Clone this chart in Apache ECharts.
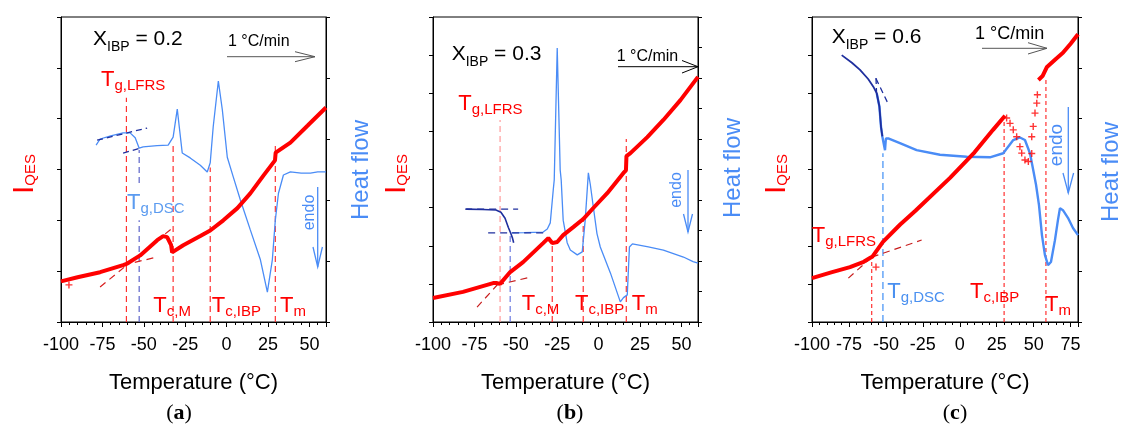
<!DOCTYPE html>
<html><head><meta charset="utf-8">
<script src="https://cdn.jsdelivr.net/npm/echarts/dist/echarts.min.js"></script>
<style>html,body{margin:0;padding:0;background:#fff}#c{width:1121px;height:430px}</style>
</head><body><div id="c"></div>
<script>
// ---------- DATA (temperature °C, signal in axis units) ----------
// Panel (a) X_IBP = 0.2
const aRed = [[-100,0.80],[-90,0.88],[-76.4,0.98],[-62.5,1.12],[-60,1.15],[-52.2,1.31],[-41.9,1.61],[-38.3,1.69],[-35.9,1.67],[-33.5,1.51],[-32.9,1.37],[-26.2,1.51],[-15.9,1.69],[-9.9,1.80],[-2,2.00],[6.5,2.24],[14.3,2.53],[22.2,2.88],[29.2,3.18],[29.6,3.33],[38.5,3.53],[48.8,3.86],[60,4.22]];
const aRedOut = [[-95.2,0.73]];
const aBlue = [[-78.8,2.90],[-76.4,3.00],[-70,3.05],[-62.5,3.10],[-58.3,3.10],[-55.2,3.02],[-52.8,2.85],[-50.4,2.87],[-42,2.89],[-35.3,2.90],[-32.3,3.03],[-29.8,3.49],[-28.6,3.20],[-26.8,2.77],[-22,2.69],[-15.9,2.57],[-11.7,2.46],[-9.9,2.61],[-8.1,3.20],[-5,3.95],[-2.6,3.48],[0.4,2.70],[4,2.38],[8.3,2.00],[14.3,1.51],[20.4,1.02],[24.6,0.49],[27.6,1.02],[29.4,1.67],[31.3,2.11],[34.3,2.41],[38.5,2.46],[45,2.44],[50.6,2.44],[55,2.46],[60,2.46]];
const aTanRed = [[[-76.4,0.69],[-32.3,1.86]],[[-62.5,1.12],[-43,1.27]]];
const aTanBlue = [[[-78.2,2.98],[-48,3.18]],[[-62.5,2.77],[-52.2,2.85]]];
const aMarkRed = [[-60.5,4.41],[-32.3,3.51],[-9.9,3.04],[29.4,3.53]];   // [T, top]
const aMarkDSC = [[-52.8,0,1.67],[-52.8,2.28,2.82]];                    // [T, from, to]

// Panel (b) X_IBP = 0.3
const bRed = [[-100,0.63],[-81.9,0.79],[-63.7,1.02],[-61.3,1.02],[-59.5,1.00],[-53.4,1.31],[-45.6,1.57],[-33.5,2.07],[-30.4,2.20],[-28.0,2.07],[-25.0,2.10],[-21.4,2.28],[-15.3,2.49],[-9.3,2.70],[-3.2,2.99],[5.2,3.38],[15.0,3.91],[16.5,3.98],[16.8,4.35],[19.2,4.43],[29.4,4.85],[39.1,5.30],[49.4,5.82],[60,6.43]];
const bNavy = [[-80,3.70],[-70,3.69],[-62,3.67],[-59,3.60],[-56.5,3.40],[-54.5,3.10],[-53,2.90],[-52,2.75],[-51.3,2.60]];
const bBlue = [[-52.5,2.92],[-45,2.93],[-33.5,2.95],[-31,3.05],[-29.2,3.25],[-27.4,4.33],[-26.8,4.66],[-25,8.98],[-23.2,4.98],[-22.6,4.66],[-21.4,3.34],[-19,2.60],[-17.1,2.36],[-12.9,2.20],[-9.9,2.30],[-8.1,3.34],[-6.2,4.89],[-5,4.50],[-3.2,3.77],[-1,2.90],[1,2.46],[7.1,1.61],[13.1,0.66],[15,0.80],[17.3,0.89],[18.6,2.46],[20.4,2.56],[30,2.46],[39.1,2.36],[51.2,2.13],[57,1.98],[60,1.93]];
const bTanRed = [[[-73.4,0.39],[-61.3,0.97]],[[-61.3,0.97],[-41,1.18]]];
const bTanBlue = [[[-80.6,3.70],[-48.6,3.70]],[[-66.7,2.92],[-32.3,2.92]]];
const bMarkRed = [[-59.5,5.30],[-28,2.10],[-9.3,2.68],[16.7,4.80]];
const bMarkDSC = [[-53.4,0,2.85]];

// Panel (c) X_IBP = 0.6
const cRed1 = [[-100,1.15],[-87,1.30],[-74.3,1.44],[-65,1.58],[-60.8,1.68],[-59,1.72],[-52,2.10],[-40.5,2.55],[-30,2.92],[-6.6,3.78],[10,4.45],[22.5,5.04],[30.6,5.41]];
const cRedScatter = [[31.7,5.35],[34,5.21],[36.2,5.04],[38.5,4.86],[40.7,4.60],[41.9,4.43],[44.1,4.25],[46.4,4.21],[48.7,4.42],[48.7,4.86],[49.7,5.13],[50.9,5.48],[52.1,5.74],[52.5,5.96],[-56.7,1.44]];
const cRed2 = [[53.2,6.35],[56,6.45],[59,6.69],[65,6.90],[69.8,7.06],[75,7.30],[80,7.55]];
const cNavy = [[-79.9,5.25],[-73,5.10],[-67.5,4.96],[-62,4.78],[-58.5,4.63],[-56.2,4.50],[-54.4,4.24],[-53.3,3.84],[-52.4,3.65]];
const cBlue = [[-56.2,4.50],[-54.4,4.24],[-53.3,3.84],[-52.4,3.65],[-51.1,3.45],[-50.6,3.38],[-50,3.61],[-48.4,3.61],[-40.5,3.52],[-29.2,3.38],[-13.4,3.29],[4.7,3.25],[20.4,3.24],[29.4,3.32],[36.2,3.58],[40.7,3.63],[44.1,3.58],[47.5,3.32],[49.7,2.99],[51.6,2.70],[53.6,2.30],[55.6,1.71],[57.6,1.32],[59.7,1.12],[61.7,1.18],[64.4,1.61],[66.4,2.00],[67.8,2.24],[69.8,2.20],[73.2,2.05],[76.6,1.85],[80,1.71]];
const cTanRed = [[[-75.4,1.15],[-59.6,1.70]],[[-59.6,1.70],[-25.8,2.15]]];
const cTanBlue = [[[-56.7,4.79],[-49.1,4.33]],[[-56.7,4.80],[-56.3,4.50]]];
const cMarkRed = [[-59.6,1.63],[30,5.30],[58.3,6.40]];
const cMarkDSC = [[-52,0,3.32]];

// Axis ranges
const xMax = [60, 60, 80];
const yLeftMax = [6, 8, 8];
const yRightMax = [5, 10, 6];
const xName = 'Temperature (°C)';

// ---------- STYLE / LAYOUT ----------
const FONT = '"Liberation Sans", Arial, sans-serif';
const SERIF = '"Liberation Serif", "Times New Roman", serif';
const RED = '#ff0000', BLUE = '#4a8cf6', NAVY = '#1f2f9e', DSCB = '#5b63c9';
const grids = [
  {left:61, top:17, width:265, height:305},
  {left:433, top:17, width:265, height:305},
  {left:812, top:17, width:266, height:305}
];
const ctx = document.createElement('canvas').getContext('2d');
function tw(t, s, fam, w){ ctx.font = (w||'normal') + ' ' + s + 'px ' + (fam||FONT); return ctx.measureText(t).width; }
function txtEl(x, y, t, s, color, fam, w){
  return {type:'text', silent:true, z:100, style:{x:x, y:y, text:t, fill:color, font:(w||'normal')+' '+s+'px '+(fam||FONT),
    textAlign:'left', textVerticalAlign:'middle', align:'left', verticalAlign:'middle'}};
}
function lab(x, base, parts, color, fam){
  const els = []; let cx = x;
  parts.forEach(p => { const [t, s, dy, w] = p; els.push(txtEl(cx, base + (dy||0) - 0.35*s, t, s, color, fam, w)); cx += tw(t, s, fam, w); });
  return els;
}
function rotLab(x0, yc, parts, color){
  let L = 0; parts.forEach(p => L += tw(p[0], p[1]));
  const ch = []; let cx = 0;
  parts.forEach(p => { const [t, s, dy] = p; ch.push(txtEl(cx, (dy||0) - 0.35*s, t, s, color)); cx += tw(t, s); });
  return {type:'group', x:x0, y:yc + L/2, rotation:Math.PI/2, silent:true, children:ch};
}
function line(x1,y1,x2,y2,color,w){ return {type:'line', silent:true, z:100, shape:{x1,y1,x2,y2}, style:{stroke:color, lineWidth:w||1}}; }
function poly(pts,color,w){ return {type:'polyline', silent:true, z:100, shape:{points:pts}, style:{stroke:color, lineWidth:w||1, fill:null}}; }
function Tlab(x, base, sub, color){ return lab(x, base, [['T',22,0],[sub,15,3.5]], color); }

const xAxes = [], yAxes = [], series = [];
grids.forEach((g, i) => {
  xAxes.push({gridIndex:i, type:'value', min:-100, max:xMax[i], interval:25,
    axisLine:{show:true, onZero:false, lineStyle:{color:'#000', width:1}},
    axisTick:{show:true, length:5, lineStyle:{color:'#000'}},
    minorTick:{show:true, splitNumber:5, length:3, lineStyle:{color:'#000'}},
    splitLine:{show:false},
    axisLabel:{fontSize:18, color:'#000', fontFamily:FONT, margin:14, showMaxLabel:false, showMinLabel:true},
    name:xName, nameLocation:'middle', nameGap:50,
    nameTextStyle:{fontSize:22, color:'#000', fontFamily:FONT}});
  [['left', yLeftMax[i]], ['right', yRightMax[i]]].forEach(([pos, mx]) => {
    yAxes.push({gridIndex:i, type:'value', position:pos, min:0, max:mx, interval:1,
      axisLine:{show:true, onZero:false, lineStyle:{color:'#000'}},
      axisTick:{show:true, length:4, lineStyle:{color:'#000'}},
      axisLabel:{show:false}, splitLine:{show:false}});
  });
});

function ser(gi, side, data, color, width, dash, z){
  return {type:'line', xAxisIndex:gi, yAxisIndex:gi*2 + side, data:data, showSymbol:false, symbol:'none',
    silent:true, z:z||2, lineStyle:{color:color, width:width, type:dash||'solid'}, animation:false};
}
const PLUS = 'path://M4,0H6V4H10V6H6V10H4V6H0V4H4Z';
function scat(gi, data){ return {type:'scatter', xAxisIndex:gi, yAxisIndex:gi*2, data:data, symbol:PLUS, symbolSize:7, itemStyle:{color:RED}, silent:true, z:6}; }

function vRed(gi, arr, colors, dash){ arr.forEach((m, k) => series.push(ser(gi, 0, [[m[0],0],[m[0],m[1]]], (colors && colors[k]) || '#ff3030', 1.2, dash || [6,4], 3))); }
function vDSC(gi, arr, color, dash){ arr.forEach(m => series.push(ser(gi, 1, [[m[0],m[1]],[m[0],m[2]]], color, 1.2, dash || [6,4], 3))); }

// Panel a
series.push(ser(0,1,aBlue,BLUE,1.3,null,4));
aTanBlue.forEach(s => series.push(ser(0,1,s,NAVY,1.3,[6,4],5)));
aTanRed.forEach(s => series.push(ser(0,0,s,'#d81e1e',1.2,[7,5],5)));
vRed(0, aMarkRed);
vDSC(0, aMarkDSC, DSCB);
series.push(ser(0,0,aRed,RED,4,null,6));
series.push(scat(0, aRedOut));

// Panel b
series.push(ser(1,1,bBlue,BLUE,1.3,null,4));
series.push(ser(1,1,bNavy,NAVY,1.6,null,5));
bTanBlue.forEach(s => series.push(ser(1,1,s,NAVY,1.3,[7,5],5)));
bTanRed.forEach(s => series.push(ser(1,0,s,'#c81e1e',1.2,[7,5],5)));
vRed(1, bMarkRed, ['#ff9a9a']);
vDSC(1, bMarkDSC, '#6a78e0');
series.push(ser(1,0,bRed,RED,4,null,6));

// Panel c
series.push(ser(2,1,cBlue,BLUE,2.4,null,4));
series.push(ser(2,1,cNavy,NAVY,1.8,null,5));
cTanBlue.forEach(s => series.push(ser(2,1,s,NAVY,1.3,[6,4],5)));
cTanRed.forEach(s => series.push(ser(2,0,s,'#c81e1e',1.2,[7,5],5)));
vRed(2, cMarkRed, null, [4,3]);
vDSC(2, cMarkDSC, '#3d8ef5', [7,4]);
series.push(ser(2,0,cRed1,RED,4,null,6));
series.push(ser(2,0,cRed2,RED,4,null,6));
series.push(scat(2, cRedScatter));

// ---------- ANNOTATIONS ----------
let G = [];
// panel a
G = G.concat(lab(93, 46.7, [['X',21,0],['IBP',14,5],[' = 0.2',21,0]], '#000'));
G = G.concat(lab(228, 47, [['1 °C/min',16,0]], '#000'));
G.push(line(227,56.7,315,56.7,'#555',1), poly([[295,51.7],[315,56.7],[295,61.7]],'#555',1));
G = G.concat(Tlab(101, 87.3, 'g,LFRS', RED), Tlab(127, 210.5, 'g,DSC', '#5b9bf0'),
  Tlab(153.3, 313.3, 'c,M', RED), Tlab(211.7, 313.3, 'c,IBP', RED), Tlab(280, 313.3, 'm', RED));
G.push(rotLab(315, 212.5, [['endo',16,0]], BLUE));
G.push(line(317.7,187,317.7,267,BLUE,1.3), poly([[313,247],[317.7,267],[322.4,247]],BLUE,1.3));
G.push(rotLab(35, 174, [['I',30,0],['QES',15,1]], RED));
G.push(rotLab(370, 170, [['Heat flow',24,0]], BLUE));
G = G.concat(lab(179 - tw('(a)',22,SERIF,'bold')/2, 421, [['(',22,0],['a',22,0,'bold'],[')',22,0]], '#000', SERIF));
// panel b
G = G.concat(lab(451.7, 61.7, [['X',21,0],['IBP',14,5],[' = 0.3',21,0]], '#000'));
G = G.concat(lab(616.7, 61.7, [['1 °C/min',16,0]], '#000'));
G.push(line(618,66.7,698,66.7,'#000',1), poly([[682,60.5],[698,66.7],[682,73]],'#000',1));
G = G.concat(Tlab(458.3, 111.7, 'g,LFRS', RED), Tlab(521.7, 311.7, 'c,M', RED),
  Tlab(575, 311.7, 'c,IBP', RED), Tlab(631.7, 311.7, 'm', RED));
G.push(rotLab(682, 190, [['endo',16,0]], BLUE));
G.push(line(688,170,688,232,BLUE,1.3), poly([[683.5,214],[688,232],[692.5,214]],BLUE,1.3));
G.push(rotLab(407, 174, [['I',30,0],['QES',15,1]], RED));
G.push(rotLab(742, 168, [['Heat flow',24,0]], BLUE));
G = G.concat(lab(570 - tw('(b)',22,SERIF,'bold')/2, 421, [['(',22,0],['b',22,0,'bold'],[')',22,0]], '#000', SERIF));
// panel c
G = G.concat(lab(831.7, 45, [['X',21,0],['IBP',14,5],[' = 0.6',21,0]], '#000'));
G = G.concat(lab(975, 40, [['1 °C/min',18,0]], '#000'));
G.push(line(982,48.3,1047,48.3,'#555',1), poly([[1028,42.7],[1047,48.3],[1028,54]],'#555',1));
G = G.concat(Tlab(811.7, 243.3, 'g,LFRS', RED), Tlab(887.3, 300, 'g,DSC', '#4a90f0'),
  Tlab(970, 300, 'c,IBP', RED), Tlab(1045, 313, 'm', RED));
G.push(rotLab(1063, 145, [['endo',19,0]], BLUE));
G.push(line(1068.3,107,1068.3,193,BLUE,1.3), poly([[1063,173],[1068.3,193],[1073.6,173]],BLUE,1.3));
G.push(rotLab(787, 174, [['I',30,0],['QES',15,1]], RED));
G.push(rotLab(1120, 172, [['Heat flow',24,0]], BLUE));
G = G.concat(lab(955 - tw('(c)',22,SERIF,'bold')/2, 421, [['(',22,0],['c',22,0,'bold'],[')',22,0]], '#000', SERIF));

const chart = echarts.init(document.getElementById('c'), null, {renderer:'canvas'});
chart.setOption({
  animation:false, backgroundColor:'#fff',
  grid: grids.map(g => Object.assign({show:true, borderColor:'#000', borderWidth:1, backgroundColor:'transparent'}, g)),
  xAxis:xAxes, yAxis:yAxes, series:series, graphic:{elements:G}
});
</script></body></html>
